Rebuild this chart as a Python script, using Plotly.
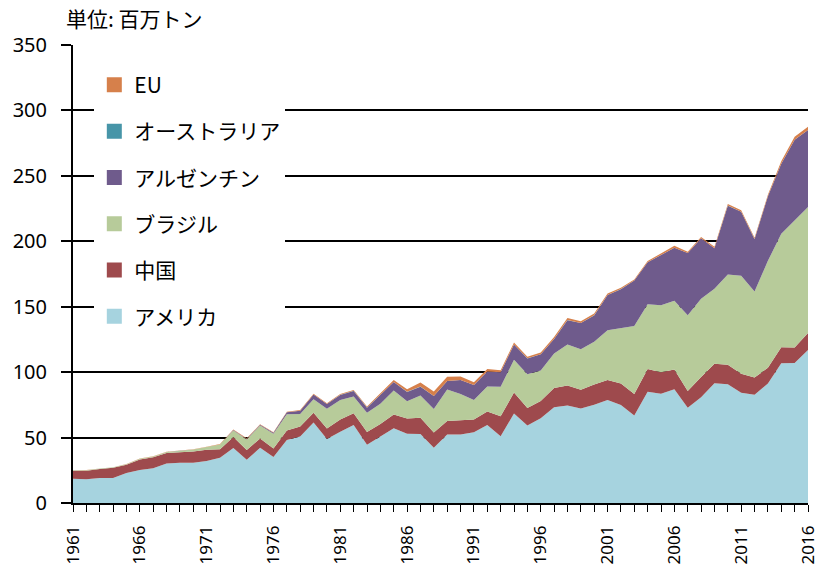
import plotly.graph_objects as go

years = list(range(1961, 2017))

usa = [18.47, 18.21, 19.04, 19.08, 23.0, 25.28, 26.58, 30.13, 30.84, 30.68,
       32.01, 34.58, 42.12, 33.1, 42.14, 35.07, 48.1, 50.86, 61.53, 48.92,
       54.44, 59.61, 44.52, 50.64, 57.13, 52.87, 52.74, 42.15, 52.35, 52.42,
       54.07, 59.61, 50.92, 68.44, 59.17, 64.78, 73.18, 74.6, 72.22, 75.06,
       78.67, 74.83, 66.78, 85.01, 83.51, 87.0, 72.86, 80.75, 91.42, 90.66,
       84.29, 82.79, 91.39, 106.88, 106.95, 116.92]
china = [6.21, 6.51, 6.91, 7.87, 6.14, 8.0, 8.3, 8.1, 7.9, 8.71,
         8.61, 6.45, 8.37, 7.47, 7.24, 6.64, 7.26, 7.57, 7.46, 7.94,
         9.33, 9.03, 9.76, 9.70, 10.51, 11.61, 12.47, 11.65, 10.23, 11.0,
         9.71, 10.3, 15.31, 16.0, 13.5, 13.22, 14.73, 15.15, 14.25, 15.41,
         15.41, 16.51, 16.51, 17.4, 16.35, 15.07, 12.73, 15.54, 14.98, 15.08,
         14.49, 13.05, 11.95, 12.15, 11.79, 12.94]
brazil = [0.27, 0.35, 0.32, 0.3, 0.52, 0.6, 0.72, 0.65, 1.06, 1.5,
          2.08, 3.67, 5.0, 7.88, 9.9, 11.2, 12.5, 9.5, 10.2, 15.2,
          15.0, 12.8, 14.6, 15.5, 18.3, 13.3, 17.0, 18.0, 24.1, 19.9,
          15.0, 19.2, 22.6, 25.0, 25.7, 23.2, 26.4, 31.3, 31.0, 32.7,
          37.9, 42.1, 51.9, 49.5, 51.2, 52.5, 57.9, 59.8, 57.3, 68.8,
          74.8, 65.7, 81.7, 86.8, 97.5, 96.3]
argentina = [0.001, 0.001, 0.01, 0.02, 0.017, 0.018, 0.02, 0.022, 0.032, 0.027,
             0.059, 0.078, 0.272, 0.496, 0.485, 0.695, 1.4, 2.5, 3.7, 3.5,
             3.77, 4.15, 4.0, 7.0, 6.5, 7.1, 6.7, 9.9, 6.5, 10.7,
             11.3, 11.3, 11.0, 11.7, 12.1, 12.4, 11.0, 18.7, 20.0, 20.2,
             26.9, 30.0, 34.8, 32.0, 38.3, 40.5, 47.5, 46.2, 31.0, 52.7,
             48.9, 40.1, 49.3, 53.4, 61.4, 58.8]
australia = [0.0, 0.0, 0.0, 0.001, 0.001, 0.002, 0.002, 0.003, 0.004, 0.004,
             0.01, 0.02, 0.03, 0.04, 0.04, 0.05, 0.06, 0.07, 0.08, 0.1,
             0.1, 0.1, 0.09, 0.1, 0.09, 0.1, 0.09, 0.08, 0.07, 0.07,
             0.07, 0.08, 0.07, 0.06, 0.07, 0.06, 0.06, 0.06, 0.05, 0.05,
             0.05, 0.06, 0.05, 0.05, 0.05, 0.05, 0.03, 0.03, 0.04, 0.03,
             0.03, 0.03, 0.03, 0.03, 0.03, 0.03]
eu = [0.1, 0.1, 0.1, 0.12, 0.12, 0.15, 0.15, 0.18, 0.2, 0.2,
      0.3, 0.3, 0.35, 0.4, 0.4, 0.45, 0.45, 0.5, 0.5, 0.5,
      0.6, 0.6, 0.8, 1.0, 1.5, 2.0, 3.0, 3.5, 3.2, 2.6,
      2.1, 1.9, 1.6, 1.4, 1.3, 1.3, 1.5, 1.6, 1.4, 1.3,
      1.2, 1.0, 0.8, 0.9, 1.1, 1.5, 0.9, 0.9, 1.0, 1.2,
      1.2, 1.0, 1.2, 1.9, 2.3, 2.5]

series = [
    ("アメリカ", usa, "#A6D3DF"),
    ("中国", china, "#9E4A4D"),
    ("ブラジル", brazil, "#B7CB9A"),
    ("アルゼンチン", argentina, "#6F5B8C"),
    ("オーストラリア", australia, "#4795A8"),
    ("EU", eu, "#D6804B"),
]

y_ticks = [0, 50, 100, 150, 200, 250, 300, 350]
x_ticks = list(range(1961, 2017, 5))

fig = go.Figure()
for name, vals, col in series:
    fig.add_trace(go.Scatter(
        x=years, y=vals, name=name, stackgroup="one", mode="lines",
        line=dict(width=0, color=col), fillcolor=col, showlegend=False,
    ))

# legend entries (square swatches), top to bottom
for i, (name, vals, col) in enumerate(reversed(series)):
    fig.add_trace(go.Scatter(
        x=[None], y=[None], name=name, mode="markers",
        marker=dict(symbol="square", size=15, color=col),
        legendgroup="g%d" % i, showlegend=True,
    ))

fig.update_layout(
    width=819, height=572,
    margin=dict(l=73, r=11, t=45, b=69, autoexpand=False),
    paper_bgcolor="white", plot_bgcolor="white",
    font=dict(family="Noto Sans CJK JP, Noto Sans, sans-serif", color="black"),
    showlegend=True,
    legend=dict(
        x=0.029, y=0.957, xanchor="left", yanchor="top",
        bgcolor="white", borderwidth=0,
        font=dict(size=21, family="Noto Sans CJK JP"),
        traceorder="grouped", tracegroupgap=16,
        itemwidth=30,
    ),
    annotations=[dict(
        text="単位: 百万トン", xref="paper", yref="paper",
        x=-0.012, y=1.059, xanchor="left", yanchor="middle",
        showarrow=False, font=dict(size=21, family="Noto Sans CJK JP"),
    )],
)

fig.update_xaxes(
    range=[1961, 2016], tickmode="array", tickvals=x_ticks,
    ticktext=[str(v) for v in x_ticks], tickangle=-90,
    tickfont=dict(size=17, family="Noto Sans"),
    ticks="outside", ticklen=7, tickcolor="black", tickwidth=1,
    ticklabelstandoff=7, automargin=False,
    minor=dict(dtick=1, tick0=1961, ticks="outside", ticklen=7,
               tickcolor="black", tickwidth=1, showgrid=False),
    showline=True, linecolor="black", linewidth=1.5,
    showgrid=False, zeroline=False,
)
fig.update_yaxes(
    range=[0, 350], tickmode="array", tickvals=y_ticks,
    tickfont=dict(size=20, family="Noto Sans"),
    ticks="outside", ticklen=10, tickcolor="black", tickwidth=1.5,
    ticklabelstandoff=10, automargin=False,
    showline=True, linecolor="black", linewidth=2,
    showgrid=True, gridcolor="black", gridwidth=1.5,
    zeroline=False,
)

fig.write_html(
    "out.html",
    config={"displayModeBar": False},
    post_script="document.body.style.margin='0';document.body.style.overflow='hidden';",
)
